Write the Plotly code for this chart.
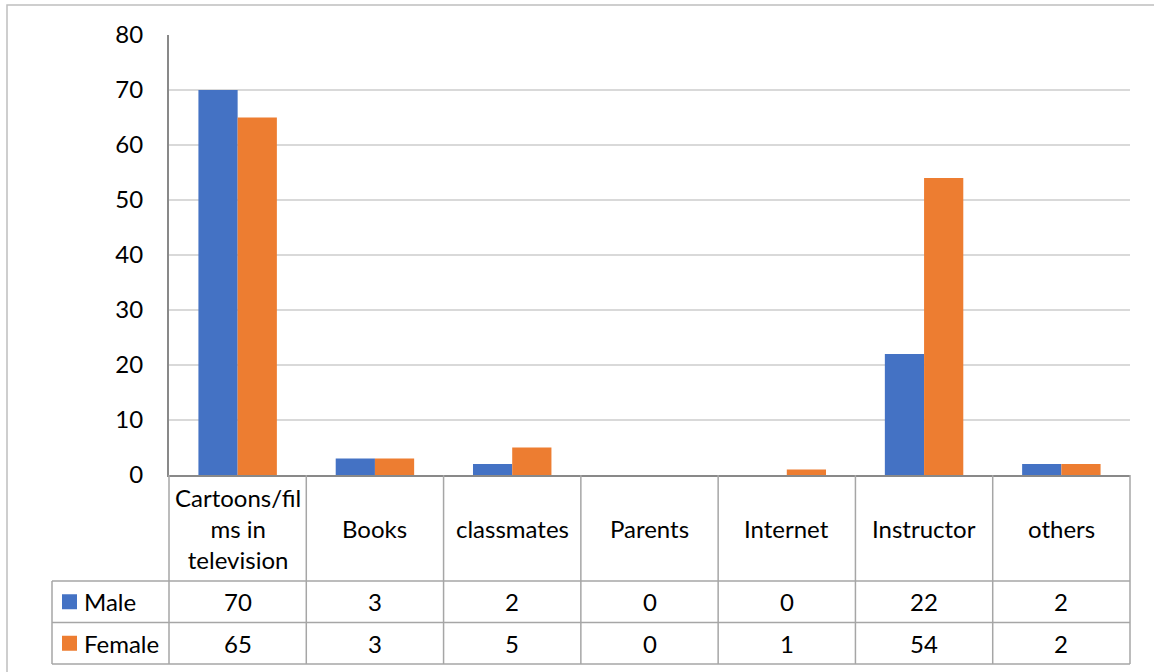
import plotly.graph_objects as go

# Data
categories = ["Cartoons/films in television", "Books", "classmates", "Parents",
              "Internet", "Instructor", "others"]
category_labels = ["Cartoons/fil<br>ms in<br>television", "Books", "classmates", "Parents",
                   "Internet", "Instructor", "others"]
male = [70, 3, 2, 0, 0, 22, 2]
female = [65, 3, 5, 0, 1, 54, 2]
series_names = ["Male", "Female"]
colors = ["#4472C4", "#ED7D31"]

W, H = 1154, 672
FONT = "Lato"
GRID = "#d9d9d9"
AXIS = "#898989"
TABLE = "#a6a6a6"

# Pixel layout of the chart area and data table
left, right = 169, 1130
top, zero_y = 35, 475
row1, row2, row3 = 581, 622.5, 664
legend_left = 52


def px(x):
    return x / W


def py(y):
    return 1 - y / H


fig = go.Figure()
for name, vals, col in zip(series_names, [male, female], colors):
    fig.add_trace(go.Bar(x=categories, y=vals, name=name, marker_color=col,
                         marker_line_width=0, showlegend=False))

shapes = []
annotations = []

# outer chart border
shapes.append(dict(type="rect", xref="paper", yref="paper",
                   x0=px(7), x1=px(1170), y0=py(690), y1=py(5),
                   line=dict(color="#bfbfbf", width=1.5)))

# data table horizontal rules
for y, x0 in [(row1, legend_left), (row2, legend_left), (row3, legend_left)]:
    shapes.append(dict(type="line", xref="paper", yref="paper",
                       x0=px(x0), x1=px(right), y0=py(y), y1=py(y),
                       line=dict(color=TABLE, width=1.5)))

# data table vertical rules
n = len(categories)
cw = (right - left) / n
for k in range(n + 1):
    x = left + k * cw
    shapes.append(dict(type="line", xref="paper", yref="paper",
                       x0=px(x), x1=px(x), y0=py(zero_y), y1=py(row3),
                       line=dict(color=TABLE, width=1.5)))
shapes.append(dict(type="line", xref="paper", yref="paper",
                   x0=px(legend_left), x1=px(legend_left), y0=py(row1), y1=py(row3),
                   line=dict(color=TABLE, width=1.5)))

# category header cells
for k, lab in enumerate(category_labels):
    cx = left + (k + 0.5) * cw
    annotations.append(dict(xref="paper", yref="paper", x=px(cx), y=py(528),
                            text=lab, showarrow=False, xanchor="center", yanchor="middle",
                            align="center", font=dict(family=FONT, size=24, color="#000")))

# value rows with legend keys
for (name, vals, col), (ya, yb) in zip(zip(series_names, [male, female], colors),
                                       [(row1, row2), (row2, row3)]):
    cy = (ya + yb) / 2
    shapes.append(dict(type="rect", xref="paper", yref="paper",
                       x0=px(62), x1=px(77), y0=py(cy + 7.5), y1=py(cy - 7.5),
                       fillcolor=col, line=dict(width=0)))
    annotations.append(dict(xref="paper", yref="paper", x=px(82), y=py(cy),
                            text=name, showarrow=False, xanchor="left", yanchor="middle",
                            font=dict(family=FONT, size=24, color="#000")))
    for k, v in enumerate(vals):
        cx = left + (k + 0.5) * cw
        annotations.append(dict(xref="paper", yref="paper", x=px(cx), y=py(cy),
                                text=str(v), showarrow=False, xanchor="center",
                                yanchor="middle",
                                font=dict(family=FONT, size=24, color="#000")))

fig.update_layout(
    width=W, height=H,
    margin=dict(l=0, r=0, t=0, b=0, pad=0, autoexpand=False),
    paper_bgcolor="white", plot_bgcolor="white",
    barmode="group", bargap=0.4286, bargroupgap=0,
    shapes=shapes, annotations=annotations,
    xaxis=dict(domain=[px(left), px(right)], range=[-0.5, n - 0.5], automargin=False,
               showticklabels=False, showgrid=False, zeroline=False,
               showline=True, linecolor=AXIS, linewidth=2),
    yaxis=dict(domain=[py(zero_y), py(top)], range=[0, 80], dtick=10, automargin=False,
               showgrid=True, gridcolor=GRID, gridwidth=1.5, zeroline=False,
               showline=True, linecolor=AXIS, linewidth=2,
               ticks="", ticklabelstandoff=19,
               tickfont=dict(family=FONT, size=24, color="#000")),
)

fig.write_html("out.html")
